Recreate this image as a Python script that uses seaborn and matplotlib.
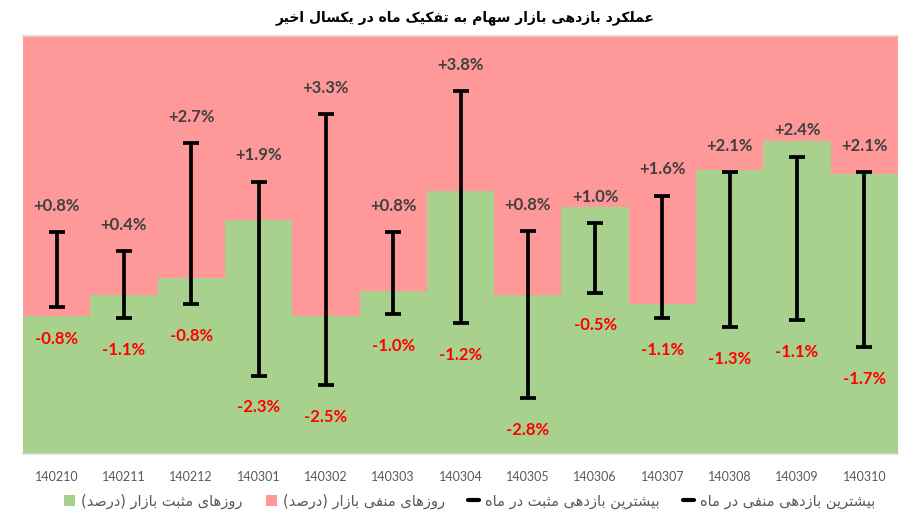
import numpy as np
import pandas as pd
import matplotlib
matplotlib.use("Agg")
import matplotlib.pyplot as plt
import seaborn as sns
from matplotlib.patches import Patch
from matplotlib.lines import Line2D

# ---------------- data ----------------
months = ["140210", "140211", "140212", "140301", "140302", "140303", "140304",
          "140305", "140306", "140307", "140308", "140309", "140310"]
positive_days = [33, 38, 42, 56, 33, 39, 63, 38, 59, 36, 68, 75, 67]
negative_days = [67, 62, 58, 44, 67, 61, 37, 62, 41, 64, 32, 25, 33]
max_return = [0.78, 0.37, 2.69, 1.86, 3.31, 0.78, 3.81, 0.80, 0.97, 1.56, 2.07, 2.40, 2.07]
min_return = [-0.84, -1.07, -0.77, -2.31, -2.52, -0.98, -1.18, -2.80, -0.54, -1.07, -1.27, -1.11, -1.70]

title_text = "عملکرد بازدهی بازار سهام به تفکیک ماه در یکسال اخیر"
legend_labels = ["روزهای مثبت بازار (درصد)", "روزهای منفی بازار (درصد)",
                 "بیشترین بازدهی مثبت در ماه", "بیشترین بازدهی منفی در ماه"]

GREEN = "#A9D18E"
PINK = "#FF9999"

# ---------------- simple Persian shaping (presentation forms + visual order) ----------------
FORMS = {
    'ا': (0xFE8D, 0xFE8E, None, None),
    'ب': (0xFE8F, 0xFE90, 0xFE91, 0xFE92),
    'ت': (0xFE95, 0xFE96, 0xFE97, 0xFE98),
    'ث': (0xFE99, 0xFE9A, 0xFE9B, 0xFE9C),
    'خ': (0xFEA5, 0xFEA6, 0xFEA7, 0xFEA8),
    'د': (0xFEA9, 0xFEAA, None, None),
    'ر': (0xFEAD, 0xFEAE, None, None),
    'ز': (0xFEAF, 0xFEB0, None, None),
    'س': (0xFEB1, 0xFEB2, 0xFEB3, 0xFEB4),
    'ش': (0xFEB5, 0xFEB6, 0xFEB7, 0xFEB8),
    'ص': (0xFEB9, 0xFEBA, 0xFEBB, 0xFEBC),
    'ع': (0xFEC9, 0xFECA, 0xFECB, 0xFECC),
    'ف': (0xFED1, 0xFED2, 0xFED3, 0xFED4),
    'ل': (0xFEDD, 0xFEDE, 0xFEDF, 0xFEE0),
    'م': (0xFEE1, 0xFEE2, 0xFEE3, 0xFEE4),
    'ن': (0xFEE5, 0xFEE6, 0xFEE7, 0xFEE8),
    'ه': (0xFEE9, 0xFEEA, 0xFEEB, 0xFEEC),
    'و': (0xFEED, 0xFEEE, None, None),
    'ک': (0xFB8E, 0xFB8F, 0xFB90, 0xFB91),
    'ی': (0xFBFC, 0xFBFD, 0xFBFE, 0xFBFF),
}
DUAL = {k for k, v in FORMS.items() if v[2] is not None}


def rtl(text):
    out = []
    for i, ch in enumerate(text):
        if ch not in FORMS:
            out.append(ch)
            continue
        prev = text[i - 1] if i > 0 else ''
        nxt = text[i + 1] if i + 1 < len(text) else ''
        jp = prev in DUAL
        jn = ch in DUAL and nxt in FORMS
        iso, fin, ini, med = FORMS[ch]
        if jp and jn:
            c = med
        elif jp:
            c = fin
        elif jn:
            c = ini
        else:
            c = iso
        out.append(chr(c))
    s = ''.join(out)[::-1]
    return s.translate(str.maketrans('()', ')('))


# ---------------- plot ----------------
sns.set_theme(style="white")
plt.rcParams['font.family'] = ['Lato', 'DejaVu Sans']

fig = plt.figure(figsize=(9.21, 5.31), dpi=100)
ax = fig.add_axes([23 / 921, 1 - 454 / 531, 875 / 921, 418 / 531])

df = pd.DataFrame({"month": months, "pos": positive_days, "neg": negative_days})
df["total"] = df["pos"] + df["neg"]

sns.barplot(data=df, x="month", y="total", color=PINK, width=1.0, saturation=1,
            linewidth=0, ax=ax)
sns.barplot(data=df, x="month", y="pos", color=GREEN, width=1.0, saturation=1,
            linewidth=0, ax=ax)
ax.set_xlim(-0.5, len(months) - 0.5)
ax.set_ylim(0, 100)
ax.set_xlabel("")
ax.set_ylabel("")
ax.set_yticks([])
ax.tick_params(axis='x', length=0, pad=12, labelsize=9, labelcolor="#595959")
for side in ["left", "right"]:
    ax.spines[side].set_visible(False)
for side in ["top", "bottom"]:
    ax.spines[side].set_color("#D9D9D9")
    ax.spines[side].set_linewidth(1.2)

ax2 = ax.twinx()
ax2.set_ylim(-4, 5)
xs = np.arange(len(months))
mid = (np.array(max_return) + np.array(min_return)) / 2
half = (np.array(max_return) - np.array(min_return)) / 2
ax2.errorbar(xs, mid, yerr=half, fmt='none', ecolor='black', elinewidth=2.7,
             capsize=6.1, capthick=2.7)
ax2.set_yticks([])
for side in ax2.spines:
    ax2.spines[side].set_visible(False)

for x, hi, lo in zip(xs, max_return, min_return):
    ax2.annotate(f"+{hi:.1f}%", (x, hi), xytext=(0, 19), textcoords="offset points",
                 ha="center", va="center", fontsize=12, fontweight="bold", color="#404040")
    ax2.annotate(f"{lo:.1f}%", (x, lo), xytext=(0, -23), textcoords="offset points",
                 ha="center", va="center", fontsize=12, fontweight="bold", color="#FF0000")

fig.text(0.505, 1 - 18 / 531, rtl(title_text), ha="center", va="center",
         fontsize=10, fontweight="bold", color="#000000", family=['DejaVu Sans'])

handles = [Patch(facecolor=GREEN, edgecolor='none'),
           Patch(facecolor=PINK, edgecolor='none'),
           Line2D([0], [0], color='black', lw=3),
           Line2D([0], [0], color='black', lw=3)]
leg = fig.legend(handles, [rtl(t) for t in legend_labels], loc="center",
                 bbox_to_anchor=(0.51, 1 - 501 / 531), ncol=4, frameon=False,
                 handlelength=0.75, handleheight=0.75,
                 handletextpad=0.4, columnspacing=1.6, labelcolor="#595959",
                 prop={'family': ['DejaVu Sans'], 'size': 10.5})

fig.savefig("out.png", dpi=100, facecolor="white")
